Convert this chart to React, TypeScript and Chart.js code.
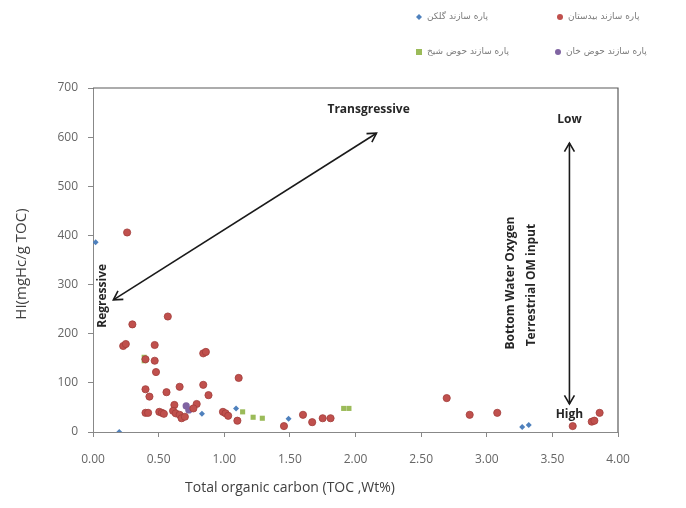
import { useEffect, useRef } from "react";
import { Chart, registerables } from "chart.js";
Chart.register(...registerables);

// ---- data (TOC wt%, HI mgHc/g TOC) ----
const gelkanTOC = [0.02, 0.2, 0.83, 1.09, 1.49, 3.27, 3.32];
const gelkanHI = [386, 0, 37, 48, 27, 10, 14];

const bidestanTOC = [
  0.26, 0.57, 0.3, 0.23, 0.25, 0.47, 0.4, 0.47, 0.84, 0.86, 0.48, 1.11, 0.84, 0.4, 0.66, 0.56, 0.43, 0.88,
  0.79, 0.62, 0.4, 0.42, 0.505, 0.525, 0.54, 0.61, 0.63, 0.66, 0.675, 0.7, 0.765, 0.99, 1.01, 1.03, 1.1,
  1.455, 1.6, 1.67, 1.75, 1.81, 2.695, 2.87, 3.08, 3.655, 3.8, 3.82, 3.86,
];
const bidestanHI = [
  406, 235, 219, 175, 179, 177, 148, 145, 160, 163, 122, 110, 96, 87, 92, 81, 72, 75,
  57, 55, 39, 39, 41, 39, 37, 43, 38, 35, 28, 31, 48, 41, 38, 33, 23,
  12, 35, 20, 28, 28, 69, 35, 39, 12, 21, 23, 39,
];

const howzSheikhTOC = [0.39, 0.39, 1.14, 1.22, 1.29, 1.91, 1.95];
const howzSheikhHI = [152, 145, 41, 30, 28, 48, 48];

const howzKhanTOC = [0.71, 0.73];
const howzKhanHI = [53, 45];

const seriesNames = ["پاره سازند گلکن", "پاره سازند بیدستان", "پاره سازند حوض شیخ", "پاره سازند حوض خان"];
const seriesColors = ["#4F81BD", "#C0504D", "#9BBB59", "#8064A2"];

const xTitle = "Total organic carbon (TOC ,Wt%)";
const yTitle = "HI(mgHc/g TOC)";

// annotations in data coordinates
const trendArrow = [
  [0.155, 269],
  [2.16, 608],
];
const oxygenArrow = [
  [3.63, 57],
  [3.63, 588],
];
const annotationLabels = [
  { text: "Transgressive", x: 2.1, y: 657, rot: 0 },
  { text: "Regressive", x: 0.076, y: 277, rot: -90 },
  { text: "Low", x: 3.63, y: 635, rot: 0 },
  { text: "High", x: 3.63, y: 35, rot: 0 },
  { text: "Bottom Water Oxygen", x: 3.18, y: 303, rot: -90 },
  { text: "Terrestrial OM input", x: 3.34, y: 299, rot: -90 },
];

function pts(xs: number[], ys: number[]) {
  return xs.map((x, i) => ({ x, y: ys[i] }));
}

function drawArrow(ctx: CanvasRenderingContext2D, x1: number, y1: number, x2: number, y2: number) {
  ctx.beginPath();
  ctx.moveTo(x1, y1);
  ctx.lineTo(x2, y2);
  ctx.stroke();
  const head = (tx: number, ty: number, fx: number, fy: number) => {
    const a = Math.atan2(ty - fy, tx - fx);
    const L = 10;
    const s = Math.PI / 6;
    ctx.beginPath();
    ctx.moveTo(tx - L * Math.cos(a - s), ty - L * Math.sin(a - s));
    ctx.lineTo(tx, ty);
    ctx.lineTo(tx - L * Math.cos(a + s), ty - L * Math.sin(a + s));
    ctx.stroke();
  };
  head(x2, y2, x1, y1);
  head(x1, y1, x2, y2);
}

const overlayPlugin = {
  id: "overlay",
  afterDraw(chart: any) {
    const ctx: CanvasRenderingContext2D = chart.ctx;
    const { left, right, top, bottom } = chart.chartArea;
    const xs = chart.scales.x;
    const ys = chart.scales.y;
    ctx.save();
    // plot border top & right
    ctx.strokeStyle = "#5a5a5a";
    ctx.lineWidth = 1.2;
    ctx.beginPath();
    ctx.moveTo(left, top);
    ctx.lineTo(right, top);
    ctx.lineTo(right, bottom);
    ctx.stroke();

    // arrows
    ctx.strokeStyle = "#1a1a1a";
    ctx.lineWidth = 1.6;
    drawArrow(
      ctx,
      xs.getPixelForValue(trendArrow[0][0]),
      ys.getPixelForValue(trendArrow[0][1]),
      xs.getPixelForValue(trendArrow[1][0]),
      ys.getPixelForValue(trendArrow[1][1])
    );
    drawArrow(
      ctx,
      xs.getPixelForValue(oxygenArrow[0][0]),
      ys.getPixelForValue(oxygenArrow[0][1]),
      xs.getPixelForValue(oxygenArrow[1][0]),
      ys.getPixelForValue(oxygenArrow[1][1])
    );

    // annotation labels
    ctx.fillStyle = "#262626";
    ctx.font = "bold 12px 'Open Sans'";
    ctx.textAlign = "center";
    ctx.textBaseline = "middle";
    for (const l of annotationLabels) {
      const px = xs.getPixelForValue(l.x);
      const py = ys.getPixelForValue(l.y);
      ctx.save();
      ctx.translate(px, py);
      ctx.rotate((l.rot * Math.PI) / 180);
      ctx.fillText(l.text, 0, 0);
      ctx.restore();
    }

    // axis titles
    ctx.fillStyle = "#404040";
    ctx.font = "14px 'Open Sans'";
    ctx.fillText(xTitle, 290, 488);
    ctx.save();
    ctx.translate(22, 264);
    ctx.rotate(-Math.PI / 2);
    ctx.font = "15px 'Open Sans'";
    ctx.fillText(yTitle, 0, 0);
    ctx.restore();

    // legend
    const legendPos = [
      [419, 17],
      [560, 17],
      [419, 52],
      [558, 52],
    ];
    ctx.font = "9px 'DejaVu Sans'";
    ctx.textAlign = "left";
    legendPos.forEach(([mx, my], i) => {
      ctx.fillStyle = seriesColors[i];
      ctx.beginPath();
      if (i === 0) {
        ctx.moveTo(mx, my - 3);
        ctx.lineTo(mx + 3, my);
        ctx.lineTo(mx, my + 3);
        ctx.lineTo(mx - 3, my);
        ctx.closePath();
      } else if (i === 2) {
        ctx.rect(mx - 3, my - 3, 6, 6);
      } else {
        ctx.arc(mx, my, 3, 0, Math.PI * 2);
      }
      ctx.fill();
      ctx.fillStyle = "#7a7a7a";
      ctx.fillText(seriesNames[i], mx + 8, my);
    });
    ctx.restore();
  },
};

export default function App() {
  const ref = useRef<HTMLCanvasElement | null>(null);
  useEffect(() => {
    if (!ref.current) return;
    const chart = new Chart(ref.current, {
      type: "scatter",
      data: {
        datasets: [
          {
            label: seriesNames[1],
            data: pts(bidestanTOC, bidestanHI),
            pointStyle: "circle",
            pointRadius: 3.6,
            backgroundColor: "#C0504D",
            borderColor: "#A23E3B",
            borderWidth: 0.8,
          },
          {
            label: seriesNames[0],
            data: pts(gelkanTOC, gelkanHI),
            pointStyle: "rectRot",
            pointRadius: 3,
            backgroundColor: "#4F81BD",
            borderColor: "#4F81BD",
            borderWidth: 0,
          },
          {
            label: seriesNames[2],
            data: pts(howzSheikhTOC, howzSheikhHI),
            pointStyle: "rect",
            pointRadius: 3.6,
            backgroundColor: "#9BBB59",
            borderColor: "#9BBB59",
            borderWidth: 0,
          },
          {
            label: seriesNames[3],
            data: pts(howzKhanTOC, howzKhanHI),
            pointStyle: "circle",
            pointRadius: 3.6,
            backgroundColor: "#8064A2",
            borderColor: "#8064A2",
            borderWidth: 0,
          },
        ],
      },
      options: {
        responsive: false,
        animation: false,
        devicePixelRatio: 1,
        layout: { padding: { top: 88, right: 68, left: 0, bottom: 0 } },
        plugins: { legend: { display: false }, tooltip: { enabled: false } },
        scales: {
          x: {
            type: "linear",
            min: 0,
            max: 4,
            afterFit: (s: any) => {
              s.height = 76;
            },
            ticks: {
              stepSize: 0.5,
              callback: (v: any) => Number(v).toFixed(2),
              color: "#666",
              font: { family: "'Open Sans'", size: 12 },
              padding: 15,
              maxRotation: 0,
            },
            grid: { drawOnChartArea: false, drawTicks: true, tickLength: 5, color: "#888" },
            border: { color: "#888", width: 1 },
          },
          y: {
            min: 0,
            max: 700,
            afterFit: (s: any) => {
              s.width = 93;
            },
            ticks: {
              stepSize: 100,
              color: "#666",
              font: { family: "'Open Sans'", size: 12 },
              padding: 10,
            },
            grid: { drawOnChartArea: false, drawTicks: true, tickLength: 5, color: "#888" },
            border: { color: "#888", width: 1 },
          },
        },
      },
      plugins: [overlayPlugin],
    });
    return () => chart.destroy();
  }, []);
  return (
    <div style={{ position: "fixed", left: 0, top: 0, width: 686, height: 508, background: "#fff" }}>
      <canvas ref={ref} width={686} height={508} />
    </div>
  );
}
